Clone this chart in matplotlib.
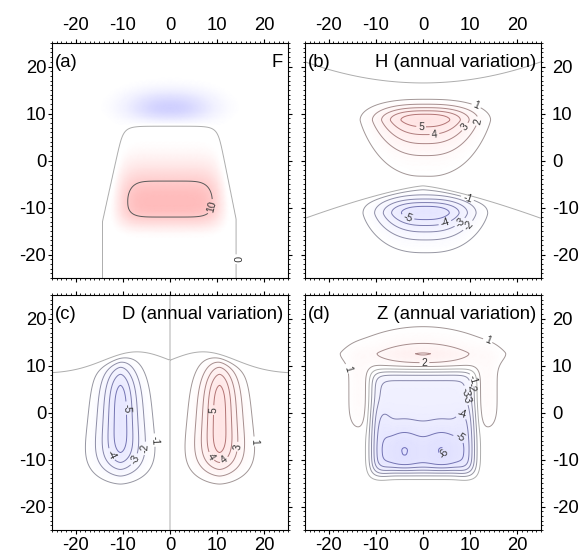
import numpy as np
import matplotlib
matplotlib.use("Agg")
import matplotlib.pyplot as plt
from matplotlib.colors import LinearSegmentedColormap, TwoSlopeNorm

plt.rcParams['font.family'] = ['Liberation Sans', 'DejaVu Sans']
plt.rcParams['axes.unicode_minus'] = False

# grid (degrees)
x = np.linspace(-25, 25, 201)
y = np.linspace(-25, 25, 201)
X, Y = np.meshgrid(x, y)

# blob shapes
# amp, x0, y0, sx, px, sy_below, qy_below, sy_above, qy_above, taper
F_pos = [13.0, 0.0, -8.6, 11.0, 6, 5.35, 2.77, 7.8, 2.0, 0.0]
F_blue = [4.0, 0.0, 11.3, 9.0, 2.2, 3.0, 2.0, 3.6, 2.0, 0.0]
F_base = 0.3
F_top = 7.3                    # flat top of the 0 line
F_left = [-14.3, 0.22, -13.0]  # x at bottom, slope, y where it starts bending
F_right = [14.0, -0.20, -12.5]

H_pos = [5.6, 0.5, 8.6, 10.7, 2.6, 6.8, 1.2, 3.17, 2.0, 0.0]
H_neg = [5.5, 0.5, -11.2, 10.2, 2.6, 5.18, 1.38, 3.4, 2.0, 0.0]
H_base = 0.2
H_zero_top = [16.5, 4.5]        # y = a + b*(x/25)^2
H_zero_bot = [-5.4, -6.9, 1.3]  # y = a + b*|x/25|^c

D_blobs = [[5.45, 10.5, -1.8, 4.8, 1.66, 11.5, 4.0, 13.0, 4.0, 0.015],
           [-5.45, -10.5, -1.8, 4.8, 1.66, 11.5, 4.0, 13.0, 4.0, 0.015]]
D_base = 0.15
D_zero = [8.3, 4.6, 7.0, 10.0]  # y = a + b*exp(-((|x|-c)/d)^2)

Z_blobs = [[-4.1, 0.0, -2.3, 11.1, 10, 11.2, 10, 11.2, 10, 0.0],   # square
           [-1.0, 9.3, -6.0, 2.2, 2, 7.5, 4, 7.5, 4, 0.0],         # side troughs
           [-1.0, -9.3, -6.0, 2.2, 2, 7.5, 4, 7.5, 4, 0.0],
           [-2.45, 4.2, -8.1, 4.5, 2, 3.98, 4, 5.3, 2, 0.0],       # lower bowl
           [-2.45, -4.2, -8.1, 4.5, 2, 3.98, 4, 5.3, 2, 0.0],
           [2.44, 0.0, 12.6, 12.9, 2, 2.8, 2, 3.44, 1.19, 0.0],    # top arch
           [1.0, 13.5, 4.5, 2.3, 2, 7.9, 4, 7.9, 4, 0.0],          # arms
           [1.0, -13.5, 4.5, 2.3, 2, 7.9, 4, 7.9, 4, 0.0]]
Z_base = 0.6

levels_F = [-10, 0, 10, 20]
levels_HDZ = list(range(-6, 7))

titles = ['F', 'H (annual variation)', 'D (annual variation)', 'Z (annual variation)']
tags = ['(a)', '(b)', '(c)', '(d)']


def blob(b):
    amp, x0, y0, sx, px, sylo, qylo, syhi, qyhi, taper = b
    sxe = np.clip(sx * (1 - taper * (Y - y0)), 0.2 * sx, None)
    sy = np.where(Y < y0, sylo, syhi)
    qy = np.where(Y < y0, qylo, qyhi)
    return amp * np.exp(-np.abs((X - x0) / sxe) ** px - np.abs((Y - y0) / sy) ** qy)


# F
xl = F_left[0] + F_left[1] * np.clip(Y - F_left[2], 0, None)
xr = F_right[0] + F_right[1] * np.clip(Y - F_right[2], 0, None)
k = 1.2
dist = np.stack([F_top - Y, X - xl, xr - X]) / k
smin = -k * np.log(np.exp(-dist).sum(axis=0))
F = (blob(F_pos) + blob(F_blue) + F_base) * np.tanh(smin / 1.2)

# H
yhi = H_zero_top[0] + H_zero_top[1] * (X / 25) ** 2
ylo = H_zero_bot[0] + H_zero_bot[1] * np.abs(X / 25) ** H_zero_bot[2]
H = (blob(H_pos) + blob(H_neg) + H_base) * np.tanh((yhi - Y) / 0.8) * np.tanh((Y - ylo) / 0.8)

# D
yz = D_zero[0] + D_zero[1] * np.exp(-((np.abs(X) - D_zero[2]) / D_zero[3]) ** 2)
D = (sum(blob(b) for b in D_blobs) + D_base * np.tanh(X)) * np.tanh((yz - Y) / 1.5)

# Z
Z = Z_base + sum(blob(b) for b in Z_blobs)

fields = [F, H, D, Z]

cmap = LinearSegmentedColormap.from_list(
    'bwr_light', [(0.0, (0.55, 0.55, 1.0)), (0.475, (1, 1, 1)),
                  (0.525, (1, 1, 1)), (1.0, (1.0, 0.5, 0.5))])
norms = [TwoSlopeNorm(vmin=-10, vcenter=0, vmax=24),
         TwoSlopeNorm(vmin=-23, vcenter=0, vmax=23),
         TwoSlopeNorm(vmin=-23, vcenter=0, vmax=23),
         TwoSlopeNorm(vmin=-20, vcenter=0, vmax=20)]


def line_colors(levels, top):
    cols = []
    for lv in levels:
        t = min(abs(lv) / top, 1.0)
        if lv > 0:
            cols.append((0.62 + 0.1 * t, 0.62 - 0.2 * t, 0.62 - 0.2 * t))
        elif lv < 0:
            cols.append((0.62 - 0.2 * t, 0.62 - 0.2 * t, 0.62 + 0.1 * t))
        else:
            cols.append((0.68, 0.68, 0.68))
    return cols


levels = [levels_F, levels_HDZ, levels_HDZ, levels_HDZ]
lcols = [['0.4', '0.68', '0.35', '0.3'],
         line_colors(levels_HDZ, 6), line_colors(levels_HDZ, 6), line_colors(levels_HDZ, 6)]

label_pos = [
    [(9.5, -10.0), (14.0, -21.0)],
    [(11.3, 11.7), (11.3, 8.5), (9.5, 6.7), (2.4, 5.8), (-0.4, 7.1),
     (9.5, -7.8), (-3.2, -12.1), (4.6, -13.1), (8.1, -13.5), (9.5, -13.8)],
    [(-10.2, 0.9), (-12.0, -8.7), (-7.3, -10.1), (-5.6, -7.6), (-3.8, -5.9),
     (9.7, 0.5), (8.6, -9.4), (11.8, -10.5), (14.6, -7.3), (17.1, -6.2)],
    [(-15.5, 9.5), (13.4, 14.5), (0.3, 10.9), (10.3, 6.9), (9.8, 5.4), (9.5, 4.4),
     (9.2, 3.4), (8.5, 0.5), (8.1, -4.8), (4.9, -9.0)],
]

fig = plt.figure(figsize=(5.85, 5.6), dpi=100)
W, Hf = 585.0, 560.0
boxes = [(52, 43), (305, 43), (52, 295), (305, 295)]

for i in range(4):
    l, t = boxes[i]
    ax = fig.add_axes([l / W, 1 - (t + 235) / Hf, 236 / W, 235 / Hf])
    ax.pcolormesh(x, y, fields[i], cmap=cmap, norm=norms[i], shading='gouraud', rasterized=True)
    cs = ax.contour(x, y, fields[i], levels=levels[i], colors=lcols[i], linewidths=0.7)
    ax.clabel(cs, manual=label_pos[i], inline=True, fmt='%g', fontsize=7.5,
              colors='0.2', inline_spacing=2)
    ax.set_xlim(-25, 25)
    ax.set_ylim(-25, 25)
    ax.set_xticks([-20, -10, 0, 10, 20])
    ax.set_yticks([-20, -10, 0, 10, 20])
    ax.set_xticks(np.arange(-25, 26, 1), minor=True)
    ax.set_yticks(np.arange(-25, 26, 1), minor=True)
    ax.tick_params(which='both', direction='out', top=True, bottom=True,
                   left=True, right=True, labelsize=13.3)
    ax.tick_params(which='major', length=3, width=0.8)
    ax.tick_params(which='minor', length=1.5, width=0.6)
    if i < 2:
        ax.tick_params(axis='x', labeltop=True, labelbottom=False, pad=3.6)
    else:
        ax.tick_params(axis='x', labeltop=False, labelbottom=True, pad=1.8)
    if i % 2 == 0:
        ax.tick_params(axis='y', labelleft=True, labelright=False, pad=1.2)
    else:
        ax.tick_params(axis='y', labelleft=False, labelright=True, pad=5)
    for s in ax.spines.values():
        s.set_linewidth(0.8)
    ax.text(0.013, 0.955, tags[i], transform=ax.transAxes, ha='left', va='top', fontsize=13.3)
    ax.text(0.979, 0.955, titles[i], transform=ax.transAxes, ha='right', va='top', fontsize=13.3)

fig.savefig('out.png', dpi=100)
